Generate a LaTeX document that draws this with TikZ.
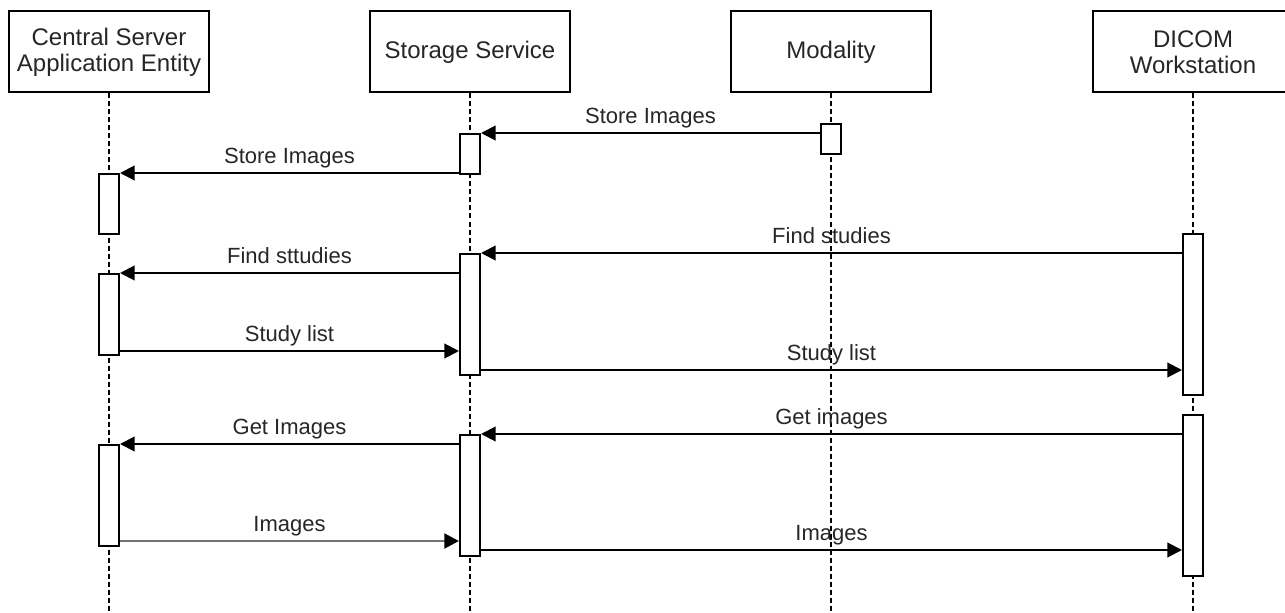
\documentclass[tikz,border=0pt]{standalone}
\usepackage{fontspec}
\setmainfont{Liberation Sans}
\usetikzlibrary{arrows.meta, calc}

\begin{document}
\begin{tikzpicture}[
x = .75pt, y = -.75pt,
head/.style={draw, line width=1.5pt, fill=white, minimum width=150pt, minimum height=60.75pt, inner sep=0pt, align=center, text=black!85, font=\fontsize{18}{19.5}\selectfont},
act/.style={draw, line width=1.5pt, fill=white, anchor=north, minimum width=15pt, minimum height=#1*.75pt, inner sep=0pt},
lifeline/.style={line width=1.2pt, dash pattern=on 3.75pt off 2.25pt},
msg/.style={line width=1.5pt, -{Triangle[length=11pt, width=11pt]}},
msgback/.style={line width=2.2pt, draw=black!55, -{Triangle[length=11pt, width=11pt, color=black]}},
lbl/.style={anchor=base, yshift=7pt, text=black!85, font=\fontsize{16.5}{18}\selectfont}
]

\useasboundingbox (0,0) rectangle (1285,613);

%%%% HEADS

\node[head] (CS) at (109,52) {Central Server\\Application Entity};
\node[head] (SS) at (470,52) {Storage Service};
\node[head] (MO) at (831,52) {Modality};
\node[head] (DW) at (1193,52) {DICOM\\Workstation};

\foreach \l in {CS,SS,MO,DW}
  \draw[lifeline] (\l.south) -- (\l.south |- 0,613);

%%%% ACTIVATIONS

\node[act=30] (m1) at (MO |- 0,123) {};
\node[act=40] (s1) at (SS |- 0,133) {};
\node[act=60] (c1) at (CS |- 0,173) {};
\node[act=161] (d1) at (DW |- 0,233) {};
\node[act=121] (s2) at (SS |- 0,253) {};
\node[act=81] (c2) at (CS |- 0,273) {};
\node[act=161] (d2) at (DW |- 0,414) {};
\node[act=121] (s3) at (SS |- 0,434) {};
\node[act=101] (c3) at (CS |- 0,444) {};

%% STORE
\draw[msg] (m1.west |- s1.north) -- node[lbl]{Store Images} (s1.north east);
\draw[msg] (s1.west |- c1.north) -- node[lbl]{Store Images} (c1.north east);

%% FIND
\draw[msg] (d1.west |- s2.north) -- node[lbl]{Find studies} (s2.north east);
\draw[msg] (s2.west |- c2.north) -- node[lbl]{Find sttudies} (c2.north east);
\path ($(c2.south east)+(0,-5)$) coordinate (x);
\draw[msg] (x) -- node[lbl]{Study list} (s2.west |- x);
\path ($(s2.south east)+(0,-6)$) coordinate (x);
\draw[msg] (x) -- node[lbl]{Study list} (d1.west |- x);

%% GET
\draw[msg] (d2.west |- s3.north) -- node[lbl]{Get images} (s3.north east);
\draw[msg] (s3.west |- c3.north) -- node[lbl]{Get Images} (c3.north east);
\path ($(c3.south east)+(0,-6)$) coordinate (x);
\draw[msgback] (x) -- node[lbl]{Images} (s3.west |- x);
\path ($(s3.south east)+(0,-7)$) coordinate (x);
\draw[msg] (x) -- node[lbl]{Images} (d2.west |- x);

\end{tikzpicture}
\end{document}
